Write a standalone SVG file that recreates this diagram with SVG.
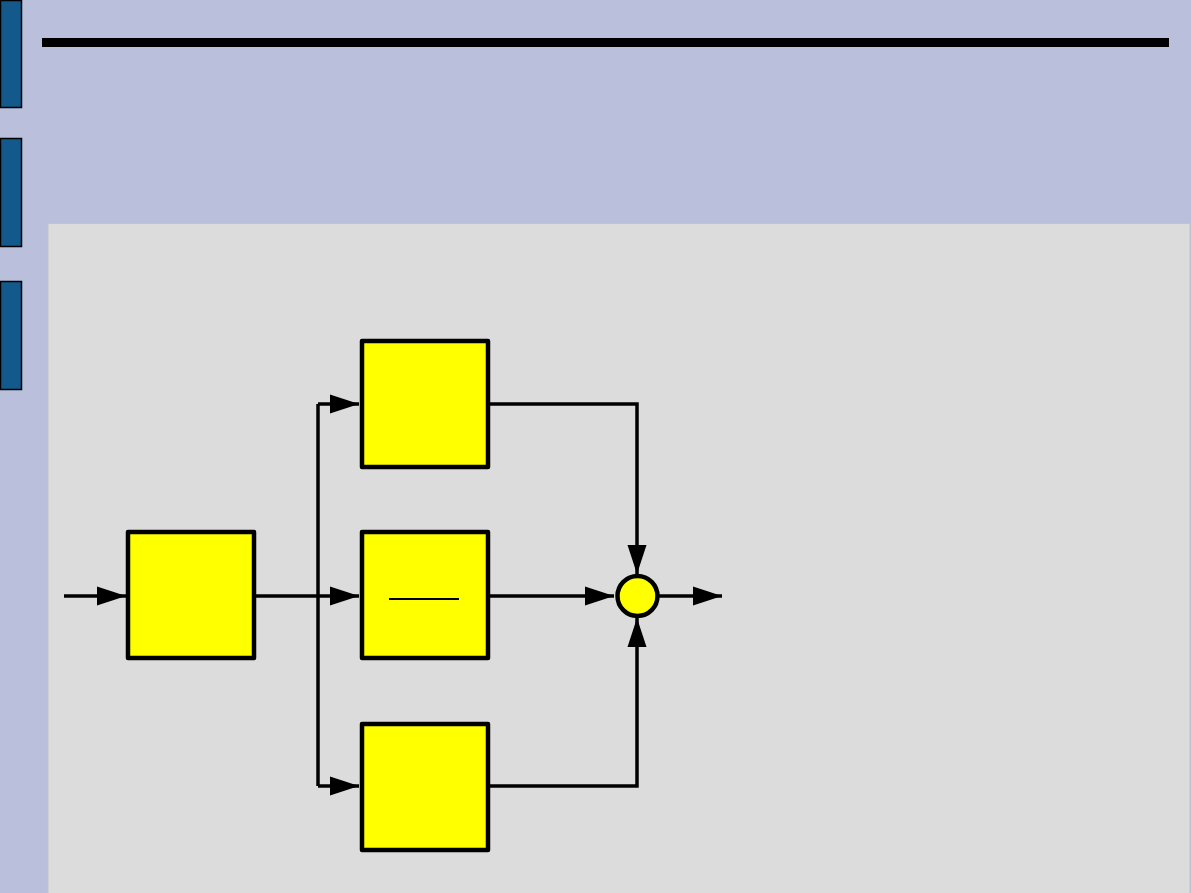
<svg xmlns="http://www.w3.org/2000/svg" width="1191" height="893" viewBox="0 0 1191 893">
<style>
.tab{fill:#13598c;stroke:#000;stroke-width:1.5}
.blk{fill:#ffff00;stroke:#000;stroke-width:4.5;stroke-linejoin:round}
.ln{fill:none;stroke:#000;stroke-width:3.5}
</style>
<defs>
<marker id="ah" markerUnits="userSpaceOnUse" markerWidth="29" markerHeight="20" refX="29" refY="10" orient="auto">
<path d="M0,0.5 L29,10 L0,19.5 Z" fill="#000"/>
</marker>
</defs>
<rect x="0" y="0" width="1191" height="893" fill="#babfdb"/>
<rect class="tab" x="0.5" y="0.5" width="21" height="107"/>
<rect class="tab" x="0.5" y="138.5" width="21" height="108"/>
<rect class="tab" x="0.5" y="281.5" width="21" height="108"/>
<rect x="42" y="38" width="1127" height="9" fill="#000"/>
<rect x="48" y="223.5" width="1142" height="670" fill="#dcdcdc" stroke="#c4c4c4" stroke-width="1"/>
<g id="connectors">
<path class="ln" d="M64,596 H126" marker-end="url(#ah)"/>
<path class="ln" d="M256,596 H359" marker-end="url(#ah)"/>
<path class="ln" d="M318,404 V786"/>
<path class="ln" d="M318,404 H359" marker-end="url(#ah)"/>
<path class="ln" d="M318,786 H359" marker-end="url(#ah)"/>
<path class="ln" d="M490,404 H637 V574" marker-end="url(#ah)"/>
<path class="ln" d="M490,596 H614" marker-end="url(#ah)"/>
<path class="ln" d="M490,786 H637 V618" marker-end="url(#ah)"/>
<path class="ln" d="M659,596 H722" marker-end="url(#ah)"/>
</g>
<g id="block-input"><rect class="blk" x="128" y="532" width="126" height="126"/></g>
<g id="block-top"><rect class="blk" x="362" y="341" width="126" height="126"/></g>
<g id="block-mid"><rect class="blk" x="362" y="532" width="126" height="126"/><line x1="389" y1="599" x2="459" y2="599" stroke="#000" stroke-width="2"/></g>
<g id="block-bot"><rect class="blk" x="362" y="724" width="126" height="126"/></g>
<g id="sum"><circle cx="637.5" cy="596" r="20" fill="#ffff00" stroke="#000" stroke-width="4.5"/></g>
</svg>
